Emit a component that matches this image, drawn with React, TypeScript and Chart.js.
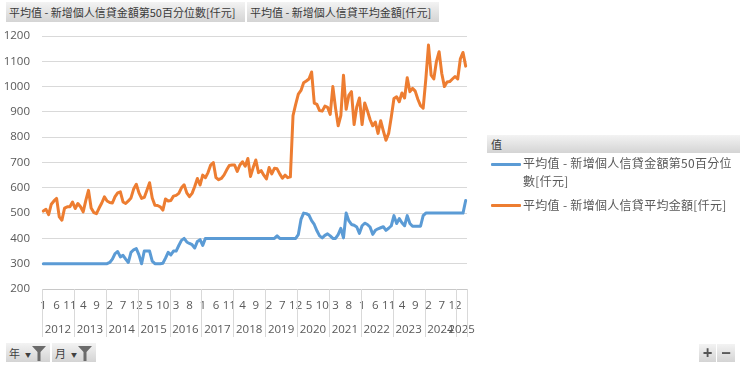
import React, { useEffect, useRef } from "react";
import { Chart, registerables } from "chart.js";

Chart.register(...registerables);

// ---- data ----
const years = [2012, 2013, 2014, 2015, 2016, 2017, 2018, 2019, 2020, 2021, 2022, 2023, 2024, 2025];
const monthsPerYear = [12, 12, 12, 12, 12, 12, 12, 12, 12, 12, 12, 12, 12, 4];

const seriesNames = [
  "平均值 - 新增個人信貸金額第50百分位數[仟元]",
  "平均值 - 新增個人信貸平均金額[仟元]",
];

// 第50百分位數 by year (monthly)
const p50_2012 = [300, 300, 300, 300, 300, 300, 300, 300, 300, 300, 300, 300];
const p50_2013 = [300, 300, 300, 300, 300, 300, 300, 300, 300, 300, 300, 300];
const p50_2014 = [300, 305, 318, 340, 348, 327, 333, 318, 305, 345, 355, 360];
const p50_2015 = [335, 300, 350, 350, 350, 310, 300, 300, 300, 302, 322, 345];
const p50_2016 = [335, 350, 350, 372, 392, 400, 386, 380, 375, 362, 388, 395];
const p50_2017 = [372, 400, 400, 400, 400, 400, 400, 400, 400, 400, 400, 400];
const p50_2018 = [400, 400, 400, 400, 400, 400, 400, 400, 400, 400, 400, 400];
const p50_2019 = [400, 400, 400, 400, 410, 400, 400, 400, 400, 400, 400, 400];
const p50_2020 = [415, 475, 500, 498, 492, 470, 455, 430, 410, 402, 412, 418];
const p50_2021 = [410, 400, 400, 415, 440, 402, 500, 470, 455, 452, 445, 420];
const p50_2022 = [450, 460, 455, 445, 416, 432, 438, 442, 446, 432, 440, 450];
const p50_2023 = [490, 459, 478, 462, 450, 490, 459, 448, 448, 448, 448, 490];
const p50_2024 = [500, 500, 500, 500, 500, 500, 500, 500, 500, 500, 500, 500];
const p50_2025 = [500, 500, 500, 550];

// 平均金額 by year (monthly)
const avg_2012 = [508, 515, 494, 535, 548, 558, 485, 472, 520, 525, 525, 544];
const avg_2013 = [518, 538, 525, 505, 550, 590, 520, 502, 498, 520, 540, 564];
const avg_2014 = [548, 542, 540, 565, 580, 584, 544, 538, 548, 560, 595, 614];
const avg_2015 = [580, 558, 562, 590, 620, 560, 531, 530, 525, 512, 556, 548];
const avg_2016 = [550, 567, 570, 578, 600, 612, 580, 565, 578, 605, 637, 611];
const avg_2017 = [650, 640, 660, 690, 700, 640, 632, 637, 650, 670, 688, 690];
const avg_2018 = [690, 665, 690, 703, 685, 716, 645, 680, 710, 660, 668, 650];
const avg_2019 = [635, 680, 655, 677, 675, 655, 638, 650, 640, 643, 885, 930];
const avg_2020 = [970, 985, 1015, 1022, 1030, 1058, 935, 930, 905, 903, 923, 918];
const avg_2021 = [890, 1000, 915, 845, 885, 1045, 910, 965, 980, 850, 920, 955];
const avg_2022 = [850, 935, 905, 870, 845, 860, 815, 865, 825, 788, 815, 880];
const avg_2023 = [953, 960, 940, 975, 955, 1035, 980, 993, 982, 950, 925, 915];
const avg_2024 = [1030, 1164, 1045, 1030, 1100, 1138, 1052, 1000, 1018, 1020, 1030, 1040];
const avg_2025 = [1030, 1110, 1135, 1081];

const p50Years = [p50_2012, p50_2013, p50_2014, p50_2015, p50_2016, p50_2017, p50_2018, p50_2019, p50_2020, p50_2021, p50_2022, p50_2023, p50_2024, p50_2025];
const avgYears = [avg_2012, avg_2013, avg_2014, avg_2015, avg_2016, avg_2017, avg_2018, avg_2019, avg_2020, avg_2021, avg_2022, avg_2023, avg_2024, avg_2025];

const yMin = 200;
const yMax = 1200;
const yStep = 100;
const monthLabelEvery = 5;

const BLUE = "#5B9BD5";
const ORANGE = "#ED7D31";
const TEXT = "#595959";
const GRID = "#D9D9D9";
const AXIS_FONT = '"Open Sans", "Noto Sans", sans-serif';
const CJK_FONT = '"Noto Sans CJK TC", "Noto Sans", sans-serif';

const categories: string[] = [];
years.forEach((y, k) => {
  for (let m = 1; m <= monthsPerYear[k]; m++) categories.push(String(m));
});
const p50Data = p50Years.flat();
const avgData = avgYears.flat();

const yearAxisPlugin = {
  id: "yearAxis",
  afterDraw(chart: any) {
    const x = chart.scales.x;
    const area = chart.chartArea;
    const ctx = chart.ctx as CanvasRenderingContext2D;
    const band = x.getPixelForValue(1) - x.getPixelForValue(0);
    ctx.save();
    ctx.strokeStyle = GRID;
    ctx.lineWidth = 1;
    ctx.fillStyle = TEXT;
    ctx.font = `11.5px ${AXIS_FONT}`;
    ctx.textAlign = "center";
    ctx.textBaseline = "middle";
    let start = 0;
    let lastRight = 0;
    years.forEach((yr, k) => {
      const n = monthsPerYear[k];
      const left = x.getPixelForValue(start) - band / 2;
      const right = x.getPixelForValue(start + n - 1) + band / 2;
      const lx = Math.round(left) + 0.5;
      ctx.beginPath();
      ctx.moveTo(lx, area.bottom);
      ctx.lineTo(lx, area.bottom + 48);
      ctx.stroke();
      ctx.fillText(String(yr), (left + right) / 2, area.bottom + 41);
      start += n;
      lastRight = right;
    });
    const rx = Math.round(lastRight) + 0.5;
    ctx.beginPath();
    ctx.moveTo(rx, area.bottom);
    ctx.lineTo(rx, area.bottom + 48);
    ctx.stroke();
    ctx.restore();
  },
};

function Funnel() {
  return (
    <svg width="14" height="16" viewBox="0 0 14 16" style={{ display: "block" }}>
      <polygon points="0,1 14,1 8.5,7 8.5,16 5.5,16 5.5,7" fill="#6b6b6b" />
    </svg>
  );
}

const btnBg = "linear-gradient(#f3f3f3, #d4d4d4)";

function FilterButton({ left, label }: { left: number; label: string }) {
  return (
    <div
      style={{
        position: "absolute",
        left,
        top: 343,
        width: 44,
        height: 19,
        background: btnBg,
        display: "flex",
        alignItems: "center",
        boxSizing: "border-box",
        paddingLeft: 3,
        font: `11px ${CJK_FONT}`,
        color: "#404040",
      }}
    >
      <span>{label}</span>
      <span style={{ fontSize: 6, marginLeft: 5, marginTop: 4 }}>▼</span>
      <span style={{ marginLeft: 1 }}>
        <Funnel />
      </span>
    </div>
  );
}

export default function App() {
  const canvasRef = useRef<HTMLCanvasElement | null>(null);

  useEffect(() => {
    const canvas = canvasRef.current;
    if (!canvas) return;
    const chart = new Chart(canvas, {
      type: "line",
      data: {
        labels: categories,
        datasets: [
          {
            label: seriesNames[0],
            data: p50Data,
            borderColor: BLUE,
            backgroundColor: BLUE,
            borderWidth: 3,
            pointRadius: 0,
            tension: 0,
            borderJoinStyle: "round",
            borderCapStyle: "round",
          },
          {
            label: seriesNames[1],
            data: avgData,
            borderColor: ORANGE,
            backgroundColor: ORANGE,
            borderWidth: 3,
            pointRadius: 0,
            tension: 0,
            borderJoinStyle: "round",
            borderCapStyle: "round",
          },
        ],
      },
      options: {
        responsive: false,
        animation: false,
        events: [],
        layout: { padding: { top: 36, right: 273, left: 0, bottom: 0 } },
        plugins: {
          legend: { display: false },
          tooltip: { enabled: false },
        },
        scales: {
          x: {
            type: "category",
            offset: true,
            grid: { display: false, drawTicks: false },
            border: { display: false },
            ticks: {
              autoSkip: false,
              maxRotation: 0,
              minRotation: 0,
              padding: 10,
              color: TEXT,
              font: { family: AXIS_FONT, size: 11.5 },
              callback: (_v: any, idx: number) => (idx % monthLabelEvery === 0 ? categories[idx] : ""),
            },
            afterFit: (scale: any) => {
              scale.height = 78;
            },
          },
          y: {
            min: yMin,
            max: yMax,
            grid: {
              color: (ctx: any) => (ctx.tick && ctx.tick.value === yMin ? "#C8C8C8" : GRID),
              drawTicks: false,
              lineWidth: 1,
            },
            border: { display: false },
            ticks: {
              stepSize: yStep,
              padding: 12,
              color: TEXT,
              font: { family: AXIS_FONT, size: 11.5 },
              callback: (v: any) => String(v),
            },
            afterFit: (scale: any) => {
              scale.width = 42;
            },
          },
        },
      },
      plugins: [yearAxisPlugin],
    });
    return () => chart.destroy();
  }, []);

  return (
    <div style={{ position: "absolute", left: 0, top: 0, width: 740, height: 367, overflow: "hidden", background: "#fff" }}>
      <canvas ref={canvasRef} width={740} height={367} style={{ position: "absolute", left: 0, top: 0, display: "block" }} />

      {/* field buttons */}
      <div
        style={{
          position: "absolute",
          left: 6,
          top: 2,
          width: 239,
          height: 20,
          background: btnBg,
          font: `11px ${CJK_FONT}`,
          lineHeight: "20px",
          color: "#3a3a3a",
          paddingLeft: 3,
          boxSizing: "border-box",
          whiteSpace: "nowrap",
        }}
      >
        {seriesNames[0]}
      </div>
      <div
        style={{
          position: "absolute",
          left: 247,
          top: 2,
          width: 192,
          height: 20,
          background: btnBg,
          font: `11px ${CJK_FONT}`,
          lineHeight: "20px",
          color: "#3a3a3a",
          paddingLeft: 3,
          boxSizing: "border-box",
          whiteSpace: "nowrap",
        }}
      >
        {seriesNames[1]}
      </div>

      {/* legend */}
      <div
        style={{
          position: "absolute",
          left: 487,
          top: 135,
          width: 253,
          height: 18,
          background: btnBg,
          font: `11px ${CJK_FONT}`,
          lineHeight: "18px",
          color: "#3a3a3a",
          paddingLeft: 4,
          boxSizing: "border-box",
        }}
      >
        值
      </div>
      <div style={{ position: "absolute", left: 491, top: 163, width: 30, height: 3, background: BLUE, borderRadius: 1 }} />
      <div
        style={{
          position: "absolute",
          left: 523,
          top: 154,
          width: 215,
          font: `12px ${CJK_FONT}`,
          letterSpacing: "0.3px",
          lineHeight: "18px",
          color: TEXT,
        }}
      >
        {seriesNames[0]}
      </div>
      <div style={{ position: "absolute", left: 491, top: 204, width: 30, height: 3, background: ORANGE, borderRadius: 1 }} />
      <div
        style={{
          position: "absolute",
          left: 523,
          top: 196,
          width: 216,
          font: `12px ${CJK_FONT}`,
          letterSpacing: "0.3px",
          lineHeight: "18px",
          color: TEXT,
          whiteSpace: "nowrap",
        }}
      >
        {seriesNames[1]}
      </div>

      {/* axis filter buttons */}
      <FilterButton left={6} label="年" />
      <FilterButton left={52} label="月" />

      {/* zoom buttons */}
      <div
        style={{
          position: "absolute",
          left: 699,
          top: 344,
          width: 17,
          height: 18,
          background: btnBg,
          color: "#555",
          font: `bold 17px ${AXIS_FONT}`,
          lineHeight: "18px",
          textAlign: "center",
        }}
      >
        +
      </div>
      <div
        style={{
          position: "absolute",
          left: 717,
          top: 344,
          width: 18,
          height: 18,
          background: btnBg,
          color: "#555",
          font: `bold 17px ${AXIS_FONT}`,
          lineHeight: "17px",
          textAlign: "center",
        }}
      >
        −
      </div>
    </div>
  );
}
